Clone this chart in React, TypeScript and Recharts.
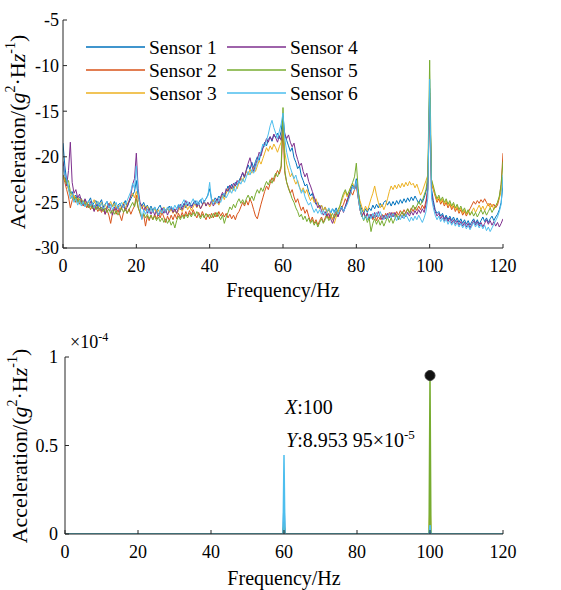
import React from 'react';
import { LineChart, Line, XAxis, YAxis, ReferenceDot } from 'recharts';

const FONT = 'Liberation Serif, Tinos, Times New Roman, serif';
const AX = '#262626';

const SENSOR_NAMES = ['Sensor 1', 'Sensor 2', 'Sensor 3', 'Sensor 4', 'Sensor 5', 'Sensor 6'];
const SENSOR_KEYS = ['s1', 's2', 's3', 's4', 's5', 's6'];
const SENSOR_COLORS = ['#0072BD', '#D95319', '#EDB120', '#7E2F8E', '#77AC30', '#4DBEEE'];

const FREQ_TICKS = [0, 20, 40, 60, 80, 100, 120];
const DB_TICKS = [-30, -25, -20, -15, -10, -5];
const LIN_TICKS = [0, 0.00005, 0.0001];
const FREQ_STEP = 0.5;

const S1_DB = [
  -18.5, -21, -22.6, -23.4, -24, -23.8, -24.5, -24.2, -24.8, -24.4, -24.6, -25.1, -24.7, -25.2, -24.9, -24.5, -25.3, -25, -24.8, -25.4,
  -25.1, -24.7, -25.5, -25.2, -24.9, -25.6, -25.2, -25.4, -24.9, -25.7, -25.3, -25.1, -25.6, -25.2, -24.8, -25.5, -25.0, -24.6, -24.2, -23.8,
  -22.6, -24.5, -25.1, -25.4, -25.0, -25.6, -25.3, -25.8, -25.4, -25.9, -25.5, -26.0, -25.6, -25.3, -25.9, -25.6, -26.1, -25.7, -25.4, -25.9,
  -25.6, -26.0, -25.7, -25.3, -25.8, -25.5, -25.1, -25.6, -25.2, -25.0, -25.4, -25.1, -24.8, -25.3, -25.0, -24.7, -25.2, -24.9, -24.6, -24.2,
  -23.5, -24.6, -24.9, -24.5, -24.8, -24.3, -24.6, -24.1, -24.4, -23.8, -23.2, -23.6, -23.0, -23.4, -22.8, -23.1, -22.6, -22.2, -21.8, -22.3,
  -21.5, -20.9, -21.4, -20.6, -21.2, -20.5, -20.0, -20.4, -19.6, -19.0, -18.4, -18.8, -18.1, -17.8, -18.3, -17.6, -17.9, -17.4, -18.0, -17.2,
  -15.5, -17.6, -18.2, -18.8, -19.4, -19.0, -20.1, -20.6, -21.3, -21.0, -22.1, -22.6, -23.2, -23.0, -23.8, -24.3, -24.0, -24.8, -25.2, -25.0,
  -25.6, -25.3, -25.9, -25.5, -26.1, -25.8, -26.2, -25.7, -26.0, -25.6, -26.3, -25.9, -25.4, -26.0, -25.5, -24.9, -24.2, -23.6, -23.1, -23.4,
  -22.4, -23.8, -25.2, -25.8, -26.2, -25.7, -26.1, -25.6, -25.9, -25.3, -25.7, -25.2, -25.6, -25.1, -25.5, -25.0, -24.8, -25.3, -24.9, -25.4,
  -24.9, -25.3, -24.8, -25.2, -24.7, -25.1, -24.6, -25.0, -24.5, -24.9, -24.4, -24.8, -24.3, -24.7, -25.1, -24.6, -25.0, -24.5, -23.8, -22.8,
  -12.5, -23.5, -24.8, -25.8, -26.2, -26.0, -26.5, -26.2, -26.8, -26.4, -26.9, -26.5, -27.0, -26.6, -27.1, -26.7, -27.2, -26.8, -27.3, -26.9,
  -27.4, -27.0, -27.5, -27.1, -26.8, -27.3, -26.9, -27.4, -27.0, -26.6, -27.1, -26.7, -27.2, -26.8, -26.5, -27.0, -26.6, -26.3, -25.8, -25.0,
  -23.0,
];

const S2_DB = [
  -22.0, -22.8, -23.6, -24.4, -25.6, -24.8, -24.4, -25.0, -24.6, -25.2, -24.8, -25.4, -25.0, -25.6, -25.2, -25.8, -25.3, -25.9, -25.5, -26.0,
  -25.6, -26.1, -25.7, -26.3, -25.8, -26.4, -27.3, -26.2, -25.7, -26.3, -25.8, -26.4, -27.0, -26.1, -25.6, -26.2, -25.7, -26.3, -25.8, -25.4,
  -24.2, -25.5, -26.2, -26.8, -26.3, -27.6, -26.5, -27.0, -26.4, -26.9, -26.3, -26.8, -26.2, -26.7, -26.1, -26.6, -27.2, -26.5, -27.0, -26.4,
  -26.9, -26.3, -26.8, -26.2, -26.7, -26.1, -26.6, -26.0, -26.5, -25.9, -26.4, -25.8, -26.3, -26.7, -26.1, -26.6, -26.0, -26.5, -26.9, -26.3,
  -26.8, -26.2, -26.7, -26.1, -26.6, -26.0, -26.5, -26.1, -26.6, -26.2, -26.7, -26.3, -26.8, -26.4, -26.9, -26.3, -26.0, -25.5, -25.0, -25.4,
  -24.8, -25.3, -24.6, -25.1, -25.8, -26.5, -26.8, -26.0, -25.2, -24.5, -23.8, -23.2, -23.6, -22.9, -22.3, -22.7, -22.0, -21.5, -21.9, -21.2,
  -17.0, -21.8, -22.8, -23.4, -24.0, -23.6, -24.4, -25.0, -24.6, -25.3, -25.9, -25.5, -26.2, -25.8, -26.5, -27.1, -26.6, -27.3, -26.9, -27.5,
  -27.0, -26.6, -27.2, -26.7, -26.2, -26.8, -26.3, -26.9, -26.4, -25.9, -26.5, -26.0, -25.6, -25.2, -24.6, -25.0, -24.4, -23.8, -24.2, -23.6,
  -23.2, -24.5, -25.8, -26.6, -26.1, -26.7, -26.2, -26.8, -26.3, -26.9, -26.4, -27.0, -26.5, -26.9, -26.3, -26.8, -26.2, -26.7, -26.1, -26.6,
  -26.1, -26.5, -26.0, -26.4, -25.9, -26.3, -25.8, -26.2, -25.7, -26.1, -25.6, -26.0, -25.5, -25.9, -25.4, -25.8, -25.3, -25.7, -24.8, -23.5,
  -13.0, -23.0, -23.6, -24.3, -25.0, -24.6, -25.2, -24.8, -25.4, -25.0, -25.6, -25.2, -25.8, -25.4, -26.0, -25.6, -26.2, -25.8, -26.4, -26.0,
  -26.5, -26.1, -25.7, -25.3, -24.9, -25.2, -24.8, -25.1, -24.7, -25.0, -24.6, -25.0, -25.4, -25.1, -25.5, -25.2, -25.6, -25.3, -24.5, -23.0,
  -19.6,
];

const S3_DB = [
  -22.2, -22.6, -23.0, -23.6, -24.2, -24.6, -24.2, -24.8, -24.4, -25.0, -24.6, -25.2, -24.8, -25.3, -24.9, -25.5, -25.1, -24.7, -25.3, -24.9,
  -25.4, -25.0, -25.6, -25.2, -25.7, -25.3, -24.9, -25.5, -25.1, -25.7, -25.3, -25.8, -25.4, -25.0, -25.6, -25.2, -24.8, -24.4, -24.0, -24.5,
  -23.8, -24.6, -25.2, -25.7, -25.3, -25.9, -25.4, -26.0, -25.6, -26.1, -25.7, -26.2, -25.8, -26.3, -25.9, -25.5, -26.0, -25.6, -26.1, -25.7,
  -26.2, -25.8, -26.3, -25.9, -25.5, -26.0, -25.6, -25.2, -25.8, -25.4, -25.9, -25.5, -25.1, -25.6, -25.2, -25.7, -25.3, -24.9, -25.4, -25.0,
  -25.5, -25.1, -24.7, -25.2, -24.8, -25.3, -24.6, -24.2, -24.7, -24.0, -23.5, -23.9, -23.3, -23.7, -23.1, -23.5, -22.9, -22.3, -22.7, -22.1,
  -21.6, -22.0, -21.4, -21.8, -21.2, -21.6, -21.0, -20.4, -20.8, -20.2, -19.6, -19.0, -19.4, -18.8, -19.2, -18.6, -19.0, -19.5, -18.9, -18.4,
  -17.0, -19.5, -20.8, -21.5, -22.2, -21.8, -22.5, -23.0, -22.6, -23.3, -23.8, -23.4, -24.0, -23.6, -24.3, -24.8, -24.4, -25.0, -24.6, -25.2,
  -25.7, -25.3, -25.9, -25.5, -26.1, -25.7, -26.3, -26.8, -27.3, -26.6, -26.1, -25.5, -24.9, -24.3, -23.8, -24.4, -23.8, -23.3, -22.9, -23.4,
  -23.0, -24.0, -24.8, -25.5, -26.0, -25.4, -25.9, -25.3, -24.6, -24.0, -23.2, -24.2, -25.0, -25.6, -25.2, -25.8, -25.3, -24.6, -23.8, -23.2,
  -23.6, -23.1, -23.5, -23.0, -23.4, -22.9, -23.3, -22.8, -23.2, -22.7, -23.1, -22.9, -23.4, -23.0, -23.6, -24.2, -23.8, -23.2, -22.6, -22.0,
  -14.0, -22.5, -23.5, -24.2, -24.8, -24.4, -25.0, -24.6, -25.2, -24.8, -25.4, -25.0, -25.6, -25.2, -25.8, -25.4, -26.0, -25.6, -26.2, -25.8,
  -26.3, -25.9, -26.4, -26.0, -25.6, -26.1, -25.7, -25.3, -25.8, -25.4, -25.9, -25.5, -25.1, -25.6, -25.2, -25.8, -25.4, -25.0, -24.5, -23.8,
  -22.2,
];

const S4_DB = [
  -20.5, -22.0, -23.2, -21.5, -18.4, -22.8, -24.0, -23.6, -24.5, -24.1, -24.8, -25.3, -24.6, -25.1, -25.6, -24.9, -25.4, -26.0, -25.2, -25.7,
  -25.3, -25.9, -25.4, -26.3, -25.6, -25.1, -25.8, -26.4, -25.5, -25.9, -25.4, -26.1, -25.6, -25.2, -25.9, -25.5, -24.9, -24.2, -23.0, -22.4,
  -19.6, -23.5, -25.0, -25.4, -25.9, -25.5, -26.2, -25.7, -26.3, -25.8, -26.4, -25.9, -26.5, -26.0, -25.6, -26.2, -25.8, -26.4, -25.9, -25.5,
  -26.1, -25.7, -26.2, -25.6, -25.2, -25.8, -25.3, -24.8, -25.4, -25.0, -25.6, -25.2, -24.9, -25.5, -25.1, -25.7, -25.3, -24.8, -25.4, -25.0,
  -25.3, -24.8, -25.4, -25.0, -24.6, -25.1, -24.4, -23.9, -24.3, -23.5, -23.8, -23.1, -23.5, -22.9, -23.2, -22.6, -22.9, -22.3, -21.7, -22.2,
  -21.4, -20.7, -20.1, -21.0, -21.6, -20.9, -20.3, -19.5, -19.9, -19.1, -18.6, -18.0, -18.4, -17.8, -18.2, -17.5, -17.9, -18.4, -17.7, -18.2,
  -16.5, -17.5, -18.0, -17.6, -18.4, -18.9, -18.5, -19.6, -20.3, -21.0, -20.7, -21.6, -22.2, -21.8, -22.7, -23.2, -23.8, -24.4, -25.0, -25.6,
  -25.3, -25.9, -26.4, -26.0, -26.6, -26.2, -26.8, -27.3, -26.7, -26.2, -26.6, -26.0, -25.6, -26.1, -25.4, -24.8, -24.2, -23.7, -23.2, -23.6,
  -22.8, -24.4, -25.8, -26.5, -26.1, -26.6, -26.2, -26.8, -26.3, -26.7, -26.1, -26.6, -26.0, -26.5, -26.9, -26.4, -26.8, -26.2, -26.7, -26.1,
  -26.6, -26.1, -26.5, -26.9, -26.3, -26.7, -26.2, -26.6, -26.1, -26.5, -26.0, -26.4, -25.9, -26.3, -25.8, -26.2, -25.7, -26.1, -25.2, -23.6,
  -13.5, -24.0, -25.2, -26.0, -26.5, -26.2, -26.8, -26.4, -27.0, -26.6, -27.1, -26.7, -27.3, -26.9, -27.4, -27.0, -27.5, -27.1, -27.6, -27.2,
  -27.7, -27.3, -27.8, -27.4, -27.0, -27.5, -27.1, -27.6, -27.2, -27.7, -27.3, -26.9, -27.4, -27.0, -27.5, -27.1, -27.6, -27.2, -27.7, -27.3,
  -26.8,
];

const S5_DB = [
  -22.0, -22.4, -23.0, -22.6, -23.8, -24.2, -24.8, -24.4, -25.0, -24.6, -25.2, -24.8, -25.4, -25.0, -25.6, -25.2, -25.7, -25.3, -25.8, -25.4,
  -25.9, -25.5, -26.0, -25.6, -26.1, -25.7, -26.2, -25.8, -26.3, -25.9, -26.4, -26.0, -25.6, -26.1, -25.7, -26.2, -25.8, -25.4, -25.0, -25.5,
  -24.6, -25.6, -26.1, -26.6, -26.2, -26.7, -26.3, -26.8, -26.4, -26.9, -26.5, -27.0, -26.6, -27.1, -26.7, -27.2, -26.8, -27.3, -26.9, -27.5,
  -27.1, -27.8, -27.0, -26.5, -26.9, -26.4, -26.8, -26.3, -26.7, -26.2, -26.6, -26.1, -26.5, -26.0, -26.4, -26.8, -26.3, -26.7, -26.2, -26.6,
  -26.3, -26.7, -26.2, -26.6, -26.1, -26.5, -26.9, -26.4, -27.3, -26.6, -26.1, -25.5, -25.8, -25.2, -25.6, -25.0, -24.6, -25.1, -24.7, -25.2,
  -24.6, -24.2, -24.7, -24.3, -24.8, -24.1, -23.6, -24.0, -23.4, -23.8, -23.2, -22.7, -23.1, -22.5, -22.9, -22.3, -21.8, -22.2, -21.6, -21.0,
  -14.6, -21.5, -22.8, -23.5, -24.0, -24.6, -25.0, -25.6, -26.0, -26.6, -26.3, -26.9, -26.5, -27.1, -26.7, -27.3, -26.9, -27.5, -27.1, -27.7,
  -27.2, -26.8, -27.3, -26.9, -26.5, -27.0, -26.6, -26.2, -26.7, -26.3, -25.8, -25.4, -24.6, -24.0, -23.6, -24.2, -23.8, -23.3, -22.8, -22.2,
  -20.7, -23.5, -25.5, -26.4, -27.0, -26.5, -27.2, -26.7, -28.2, -27.3, -26.8, -27.4, -26.9, -27.5, -27.0, -27.6, -27.1, -26.6, -27.2, -26.7,
  -27.3, -26.8, -26.3, -26.9, -26.4, -26.0, -26.5, -26.1, -25.7, -26.2, -25.8, -25.3, -25.8, -25.4, -24.9, -25.3, -24.8, -24.2, -23.6, -22.0,
  -9.4, -22.5, -23.2, -24.0, -24.6, -24.2, -24.8, -24.4, -25.0, -24.6, -25.2, -24.8, -25.4, -25.0, -25.6, -25.2, -25.8, -25.4, -26.0, -25.6,
  -26.2, -25.8, -26.4, -26.0, -26.5, -26.1, -26.6, -26.2, -25.8, -26.3, -25.9, -26.4, -26.0, -25.6, -26.1, -25.7, -25.4, -25.0, -24.3, -23.0,
  -20.5,
];

const S6_DB = [
  -21.0, -22.0, -22.4, -23.5, -24.6, -24.2, -25.0, -24.6, -25.3, -24.8, -25.4, -24.9, -25.5, -25.1, -24.8, -25.4, -25.0, -25.6, -25.2, -24.9,
  -25.5, -25.1, -25.7, -25.3, -24.9, -25.6, -25.2, -25.8, -25.4, -25.0, -25.7, -25.3, -25.0, -25.6, -25.2, -24.8, -24.3, -23.8, -22.9, -23.5,
  -21.0, -24.0, -25.4, -26.9, -25.8, -26.3, -25.7, -26.2, -25.6, -26.1, -25.5, -25.9, -26.4, -25.8, -26.2, -25.6, -26.0, -25.5, -25.9, -25.4,
  -25.8, -25.3, -25.7, -25.2, -25.6, -25.1, -24.7, -25.3, -24.9, -25.4, -25.0, -24.6, -25.2, -24.8, -25.3, -24.9, -24.5, -25.0, -24.6, -24.3,
  -22.8, -24.8, -25.2, -24.7, -25.1, -24.6, -25.0, -24.4, -24.0, -24.5, -24.1, -23.6, -24.0, -23.4, -23.8, -23.2, -22.6, -23.0, -22.4, -22.8,
  -22.2, -21.6, -22.0, -21.4, -21.8, -21.2, -20.6, -20.0, -19.4, -18.6, -18.9, -18.2, -17.5, -16.6, -16.0, -16.8, -17.4, -18.0, -17.2, -16.4,
  -15.2, -18.0, -19.5, -20.4, -21.2, -21.8, -22.4, -22.0, -22.8, -23.4, -24.0, -23.6, -24.4, -24.9, -25.3, -25.0, -25.6, -26.1, -25.7, -26.2,
  -25.8, -26.3, -25.9, -26.4, -26.0, -25.6, -26.1, -25.7, -26.2, -25.8, -26.3, -25.9, -25.5, -26.0, -25.6, -25.2, -24.6, -24.0, -23.2, -23.6,
  -22.6, -24.4, -25.8, -26.5, -26.9, -26.4, -26.9, -26.3, -26.8, -26.2, -26.7, -26.1, -26.6, -26.0, -26.5, -26.9, -26.4, -26.8, -26.2, -26.7,
  -26.2, -26.6, -27.0, -26.5, -26.9, -26.4, -26.8, -26.3, -26.7, -27.1, -26.6, -27.0, -26.5, -26.9, -26.4, -26.8, -27.2, -26.7, -26.0, -24.5,
  -11.5, -24.5, -25.6, -26.4, -26.9, -26.5, -27.1, -26.7, -27.2, -26.8, -27.4, -27.0, -27.5, -27.1, -27.6, -27.2, -27.7, -27.3, -27.8, -27.4,
  -27.9, -27.5, -28.0, -27.6, -27.2, -27.7, -27.3, -27.8, -27.4, -27.9, -27.5, -28.1, -27.7, -28.2, -27.8, -27.4, -27.0, -26.6, -26.0, -25.2,
  -22.0,
];

const SPIKE_FREQ = [0, 59.75, 60, 60.25, 99.75, 100, 100.25, 120];
const S1_LIN = [0, 0, 0.17e-4, 0, 0, 0.03e-4, 0, 0];
const S2_LIN = [0, 0, 0.03e-4, 0, 0, 0.02e-4, 0, 0];
const S3_LIN = [0, 0, 0.02e-4, 0, 0, 0.15e-4, 0, 0];
const S4_LIN = [0, 0, 0.05e-4, 0, 0, 0.01e-4, 0, 0];
const S5_LIN = [0, 0, 0.06e-4, 0, 0, 0.895395e-4, 0, 0];
const S6_LIN = [0, 0, 0.446e-4, 0, 0, 0.05e-4, 0, 0];
const MARK_X = 100;
const MARK_Y = 8.95395e-5;

const DB_SERIES = [S1_DB, S2_DB, S3_DB, S4_DB, S5_DB, S6_DB];
const LIN_SERIES = [S1_LIN, S2_LIN, S3_LIN, S4_LIN, S5_LIN, S6_LIN];

const topData = S1_DB.map((_, i) => {
  const row: any = { f: i * FREQ_STEP };
  SENSOR_KEYS.forEach((k, j) => { row[k] = DB_SERIES[j][i]; });
  return row;
});

const bottomData = SPIKE_FREQ.map((f, i) => {
  const row: any = { f };
  SENSOR_KEYS.forEach((k, j) => { row[k] = LIN_SERIES[j][i]; });
  return row;
});

const tickStyle = { fill: '#000', fontSize: 18, fontFamily: FONT };
const noLabel = () => '';

function TopChart() {
  return (
    <LineChart width={561} height={310} data={topData} margin={{ top: 20, right: 58, bottom: 0, left: 0 }}>
      <XAxis dataKey="f" type="number" domain={[0, 120]} ticks={FREQ_TICKS} interval={0} allowDataOverflow
        tickSize={-4} tickMargin={15} height={62} stroke={AX} tick={tickStyle} />
      <XAxis xAxisId="top" orientation="top" type="number" domain={[0, 120]} ticks={FREQ_TICKS} interval={0}
        tickSize={-4} tickFormatter={noLabel} height={0} stroke={AX} />
      <YAxis type="number" domain={[-30, -5]} ticks={DB_TICKS} interval={0} allowDataOverflow
        tickSize={-4} tickMargin={8} width={63} stroke={AX} tick={tickStyle} />
      <YAxis yAxisId="right" orientation="right" type="number" domain={[-30, -5]} ticks={DB_TICKS} interval={0}
        tickSize={-4} tickFormatter={noLabel} width={0} stroke={AX} />
      {SENSOR_KEYS.map((k, j) => (
        <Line key={k} type="linear" dataKey={k} stroke={SENSOR_COLORS[j]} strokeWidth={1} dot={false}
          isAnimationActive={false} />
      ))}
    </LineChart>
  );
}

function BottomChart() {
  const fmt = (v: number) => String(Math.round(v * 1e5) / 10);
  return (
    <LineChart width={561} height={290} data={bottomData} margin={{ top: 57, right: 58, bottom: 0, left: 0 }}>
      <XAxis dataKey="f" type="number" domain={[0, 120]} ticks={FREQ_TICKS} interval={0} allowDataOverflow
        tickSize={-4} tickMargin={15} height={56} stroke={AX} tick={tickStyle} />
      <XAxis xAxisId="top" orientation="top" type="number" domain={[0, 120]} ticks={FREQ_TICKS} interval={0}
        tickSize={-4} tickFormatter={noLabel} height={0} stroke={AX} />
      <YAxis type="number" domain={[0, 0.0001]} ticks={LIN_TICKS} interval={0} allowDataOverflow
        tickSize={-4} tickMargin={11} width={65} stroke={AX} tick={tickStyle} tickFormatter={fmt} />
      <YAxis yAxisId="right" orientation="right" type="number" domain={[0, 0.0001]} ticks={LIN_TICKS} interval={0}
        tickSize={-4} tickFormatter={noLabel} width={0} stroke={AX} />
      {SENSOR_KEYS.map((k, j) => (
        <Line key={k} type="linear" dataKey={k} stroke={SENSOR_COLORS[j]} strokeWidth={1.5} dot={false}
          isAnimationActive={false} />
      ))}
      <ReferenceDot x={MARK_X} y={MARK_Y} r={5} fill="#111" stroke="#333" strokeWidth={1} ifOverflow="visible" />
    </LineChart>
  );
}

function YTitle({ cx, cy }: { cx: number; cy: number }) {
  return (
    <text x={cx} y={cy} transform={`rotate(-90, ${cx}, ${cy})`} textAnchor="middle" dominantBaseline="central"
      fontFamily={FONT} fontSize={22} fill="#000">
      <tspan>Acceleration/(</tspan>
      <tspan fontStyle="italic">g</tspan>
      <tspan dy={-7} fontSize={14}>2</tspan>
      <tspan dy={7}>·H</tspan>
      <tspan fontStyle="italic">z</tspan>
      <tspan dy={-7} fontSize={14}>-1</tspan>
      <tspan dy={7}>)</tspan>
    </text>
  );
}

function Overlay() {
  const colX = [86, 227];
  const rowY = [47, 70, 93];
  return (
    <svg width={561} height={590} style={{ position: 'absolute', left: 0, top: 0, pointerEvents: 'none' }}>
      {SENSOR_NAMES.map((name, i) => {
        const x = colX[Math.floor(i / 3)];
        const y = rowY[i % 3];
        return (
          <g key={name}>
            <line x1={x} x2={x + 59} y1={y} y2={y} stroke={SENSOR_COLORS[i]} strokeWidth={1.5} />
            <text x={x + 63} y={y} dominantBaseline="central" fontFamily={FONT} fontSize={19.5} fill="#000">{name}</text>
          </g>
        );
      })}
      <YTitle cx={17} cy={132} />
      <text x={283} y={290} textAnchor="middle" dominantBaseline="central" fontFamily={FONT} fontSize={20} fill="#000">Frequency/Hz</text>

      <YTitle cx={19} cy={446} />
      <text x={284} y={578} textAnchor="middle" dominantBaseline="central" fontFamily={FONT} fontSize={20} fill="#000">Frequency/Hz</text>
      <text x={70} y={348} fontFamily={FONT} fontSize={18} fill="#000">
        <tspan>×10</tspan>
        <tspan dy={-7} fontSize={12}>-4</tspan>
      </text>
      <text x={285} y={414} fontFamily={FONT} fontSize={20} fill="#000">
        <tspan fontStyle="italic">X</tspan>
        <tspan>:100</tspan>
      </text>
      <text x={286} y={447} fontFamily={FONT} fontSize={20} fill="#000">
        <tspan fontStyle="italic">Y</tspan>
        <tspan>:8.953 95×10</tspan>
        <tspan dy={-8} fontSize={13}>-5</tspan>
      </text>
    </svg>
  );
}

export default function App() {
  return (
    <div style={{ position: 'absolute', left: 0, top: 0, width: 561, height: 590, background: '#fff', overflow: 'hidden' }}>
      <div style={{ position: 'absolute', left: 0, top: 0 }}>
        <TopChart />
      </div>
      <div style={{ position: 'absolute', left: 0, top: 300 }}>
        <BottomChart />
      </div>
      <Overlay />
    </div>
  );
}
